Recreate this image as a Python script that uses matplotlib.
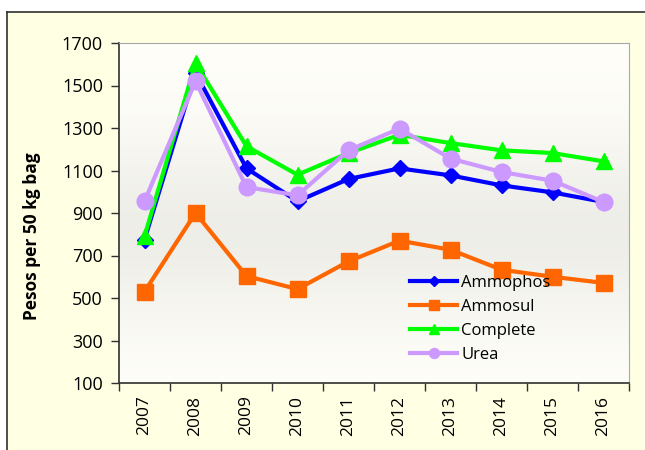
import matplotlib
matplotlib.use("Agg")
import matplotlib.pyplot as plt
from matplotlib.lines import Line2D
import numpy as np

years = ["2007", "2008", "2009", "2010", "2011", "2012", "2013", "2014", "2015", "2016"]
ammophos = [775, 1560, 1110, 955, 1060, 1110, 1077, 1030, 997, 952]
ammosul = [530, 900, 603, 542, 672, 770, 727, 633, 600, 571]
complete = [790, 1605, 1214, 1080, 1182, 1268, 1229, 1195, 1182, 1143]
urea = [955, 1520, 1022, 983, 1195, 1297, 1156, 1093, 1052, 952]
yticks = [100, 300, 500, 700, 900, 1100, 1300, 1500, 1700]

plt.rcParams["font.family"] = ["Open Sans", "DejaVu Sans"]

fig = plt.figure(figsize=(6.45, 4.5), dpi=100)
fig.patch.set_facecolor("white")

# yellow panel with dark top/left border
W, H = 645, 450
fig.patches.append(plt.Rectangle((7 / W, 0), 1, 1 - 12 / H, transform=fig.transFigure,
                                 facecolor="#FFFFE3", edgecolor="none", zorder=-2))
fig.lines.append(Line2D([7 / W, 1], [1 - 12 / H, 1 - 12 / H], transform=fig.transFigure,
                        color="#303030", lw=1.2))
fig.lines.append(Line2D([7 / W, 7 / W], [0, 1 - 12 / H], transform=fig.transFigure,
                        color="#303030", lw=1.2))

ax = fig.add_axes([119 / W, 1 - 383 / H, (629 - 119) / W, (383 - 43) / H])

# soft vertical gradient behind the plot
t = np.linspace(0, 1, 256)
shade = 1 - 0.065 * np.exp(-((t - 0.55) / 0.28) ** 2)
grad = np.stack([shade, shade * 0.998, shade * 0.975], axis=-1)[:, None, :]
ax.imshow(grad, extent=[0, 1, 0, 1], transform=ax.transAxes, aspect="auto", zorder=0)

x = np.arange(len(years))
ax.plot(x, ammophos, color="#0000FF", lw=3, marker="D", ms=8, label="Ammophos", zorder=3)
ax.plot(x, ammosul, color="#FF6600", lw=3, marker="s", ms=12, label="Ammosul", zorder=3)
ax.plot(x, complete, color="#00FF00", lw=3, marker="^", ms=12, label="Complete", zorder=3)
ax.plot(x, urea, color="#CC99FF", lw=3, marker="o", ms=12, label="Urea", zorder=3)

ax.set_xlim(-0.5, len(years) - 0.5)
ax.set_ylim(100, 1700)
ax.set_yticks(yticks)
ax.set_yticklabels([str(v) for v in yticks], fontsize=13)
ax.set_xticks(x)
ax.set_xticklabels(years, rotation=90, fontsize=12.5)
ax.tick_params(axis="x", length=0, pad=9)
ax.set_xticks(np.arange(-0.5, len(years)), minor=True)
ax.tick_params(axis="x", which="minor", length=6, width=1, color="#303030")
ax.tick_params(axis="y", length=5.5, width=1, color="#303030", pad=6)

for s in ["top", "right"]:
    ax.spines[s].set_color("#A8A8A8")
for s in ["left", "bottom"]:
    ax.spines[s].set_color("#303030")
    ax.spines[s].set_linewidth(1.2)

ax.set_ylabel("Pesos per 50 kg bag", fontsize=12.5, fontweight="bold")
ax.yaxis.set_label_coords(-0.152, 0.432)

leg = ax.legend(loc="lower left", bbox_to_anchor=(0.542, 0.016), frameon=False, fontsize=12,
                handlelength=2.8, handletextpad=0.25, labelspacing=0.47, markerscale=0.6)

fig.savefig("out.png", dpi=100)
